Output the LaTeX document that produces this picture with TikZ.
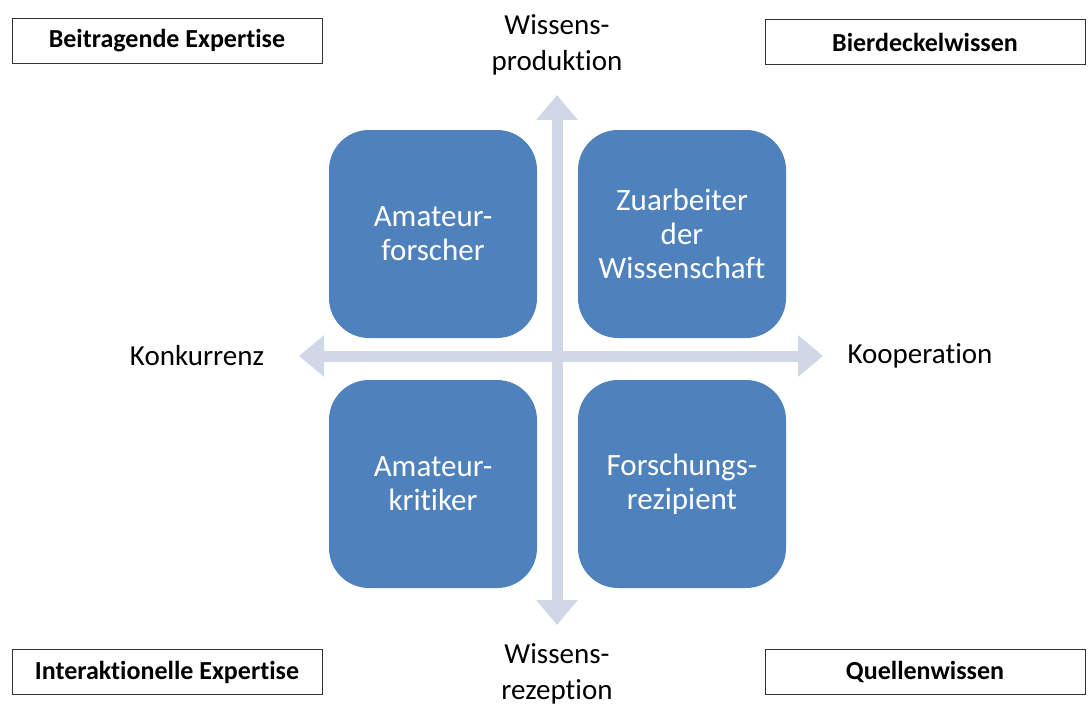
\documentclass[tikz,border=0pt]{standalone}
\usepackage{fontspec}
\setmainfont[Ligatures=NoCommon]{Carlito}
\usetikzlibrary{arrows.meta}
\definecolor{boxblue}{HTML}{4F81BD}
\definecolor{axisgrey}{HTML}{D0D8E8}
\begin{document}
\begin{tikzpicture}
  [x=1pt,y=-1pt,every node/.style={align=center,inner sep=0pt}]
  \tikzstyle{quadrant} = [fill=boxblue,rounded corners=40pt,minimum width=208pt,minimum height=208pt,text=white,font=\fontsize{31}{34}\selectfont]
  \tikzstyle{corner} = [draw=black!80,line width=0.8pt,minimum width=310pt,minimum height=45pt,font=\fontsize{26}{28}\bfseries\selectfont]
  \tikzstyle{axislabel} = [font=\fontsize{29}{36}\selectfont]
  \tikzstyle{axis} = [axisgrey,line width=11pt,{Triangle[width=40pt,length=25pt]}-{Triangle[width=40pt,length=25pt]}]
  \useasboundingbox (0,0) rectangle (1091,706);
  % axes
  \coordinate (top) at (557,95);
  \coordinate (bottom) at (557,625);
  \coordinate (left) at (299,356);
  \coordinate (right) at (823,356);
  \draw[axis] (bottom) -- (top);
  \draw[axis] (left) -- (right);
  % quadrants
  \node[quadrant] (q1) at (433,234) {Amateur-\\forscher};
  \node[quadrant] (q2) at (682,234) {Zuarbeiter\\der\\Wissenschaft};
  \node[quadrant] (q3) at (433,484) {Amateur-\\kritiker};
  \node[quadrant] (q4) at (682,484) {Forschungs-\\rezipient};
  % axis labels
  \node[axislabel] (prod) at (557,45) {Wissens-\\produktion};
  \node[axislabel] (rez) at (557,674) {Wissens-\\rezeption};
  \node[axislabel] (konk) at (197,356) {Konkurrenz};
  \node[axislabel] (koop) at (920,356) {Kooperation};
  % corner boxes
  \node[corner] (beitr) at (167,41) {Beitragende Expertise};
  \node[corner,minimum width=320pt] (bier) at (925,42) {Bierdeckelwissen};
  \node[corner] (inter) at (167,672) {Interaktionelle Expertise};
  \node[corner,minimum width=320pt] (quell) at (925,672) {Quellenwissen};
\end{tikzpicture}
\end{document}
